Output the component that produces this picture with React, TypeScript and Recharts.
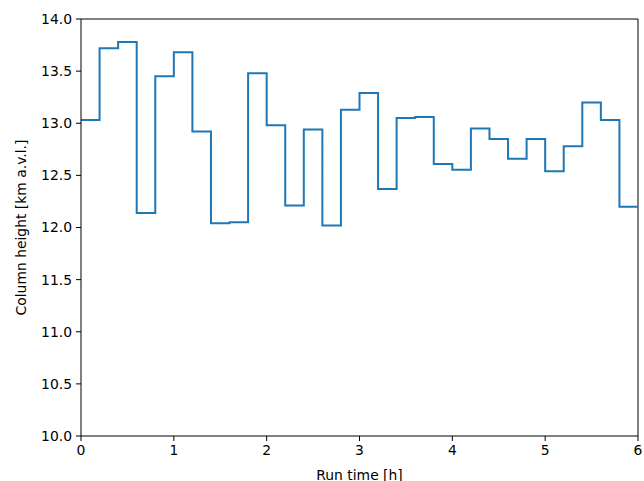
import { CartesianGrid, Label, Line, LineChart, ReferenceLine, XAxis, YAxis } from 'recharts';

// run time [h], start of each 0.2 h window (last entry closes the final step)
const runTime = [
  0, 0.2, 0.4, 0.6, 0.8, 1.0, 1.2, 1.4, 1.6, 1.8, 2.0, 2.2, 2.4, 2.6, 2.8, 3.0,
  3.2, 3.4, 3.6, 3.8, 4.0, 4.2, 4.4, 4.6, 4.8, 5.0, 5.2, 5.4, 5.6, 5.8, 6.0,
];

// column height [km a.v.l.]
const columnHeight = [
  13.03, 13.72, 13.78, 12.14, 13.45, 13.68, 12.92, 12.04, 12.05, 13.48, 12.98,
  12.21, 12.94, 12.02, 13.13, 13.29, 12.37, 13.05, 13.06, 12.61, 12.555, 12.95,
  12.85, 12.66, 12.85, 12.54, 12.78, 13.2, 13.03, 12.2, 12.2,
];

const xTicks = [0, 1, 2, 3, 4, 5, 6];
const yTicks = [10, 10.5, 11, 11.5, 12, 12.5, 13, 13.5, 14];

const data = runTime.map((t, i) => ({ t, h: columnHeight[i] }));

const font = 'DejaVu Sans, sans-serif';
const tickStyle = { fill: '#000', fontSize: 13.9, fontFamily: font };

export default function App() {
  return (
    <div style={{ position: 'absolute', left: 0, top: 0, background: '#fff' }}>
      <LineChart
        width={644}
        height={481}
        data={data}
        margin={{ top: 19, right: 6, bottom: 0, left: 0 }}
      >
        <CartesianGrid stroke="none" fill="#fff" />
        <XAxis
          dataKey="t"
          type="number"
          domain={[0, 6]}
          ticks={xTicks}
          height={45}
          tick={tickStyle}
          tickSize={5}
          tickMargin={4}
          stroke="#000"
          tickLine={{ stroke: '#000' }}
          allowDataOverflow
        >
          <Label
            value="Run time [h]"
            position="center"
            dy={17}
            style={{ fill: '#000', fontSize: 13.9, fontFamily: font }}
          />
        </XAxis>
        <YAxis
          type="number"
          domain={[10, 14]}
          ticks={yTicks}
          width={81}
          tick={tickStyle}
          tickSize={5}
          tickMargin={4}
          tickFormatter={(v: number) => v.toFixed(1)}
          stroke="#000"
          tickLine={{ stroke: '#000' }}
          allowDataOverflow
        >
          <Label
            value="Column height [km a.v.l.]"
            position="center"
            angle={-90}
            dx={-19}
            style={{ fill: '#000', fontSize: 13.9, fontFamily: font, textAnchor: 'middle' }}
          />
        </YAxis>
        <ReferenceLine y={14} stroke="#000" strokeWidth={1} />
        <ReferenceLine x={6} stroke="#000" strokeWidth={1} />
        <Line
          type="stepAfter"
          dataKey="h"
          stroke="#1f77b4"
          strokeWidth={2}
          dot={false}
          isAnimationActive={false}
        />
      </LineChart>
    </div>
  );
}
